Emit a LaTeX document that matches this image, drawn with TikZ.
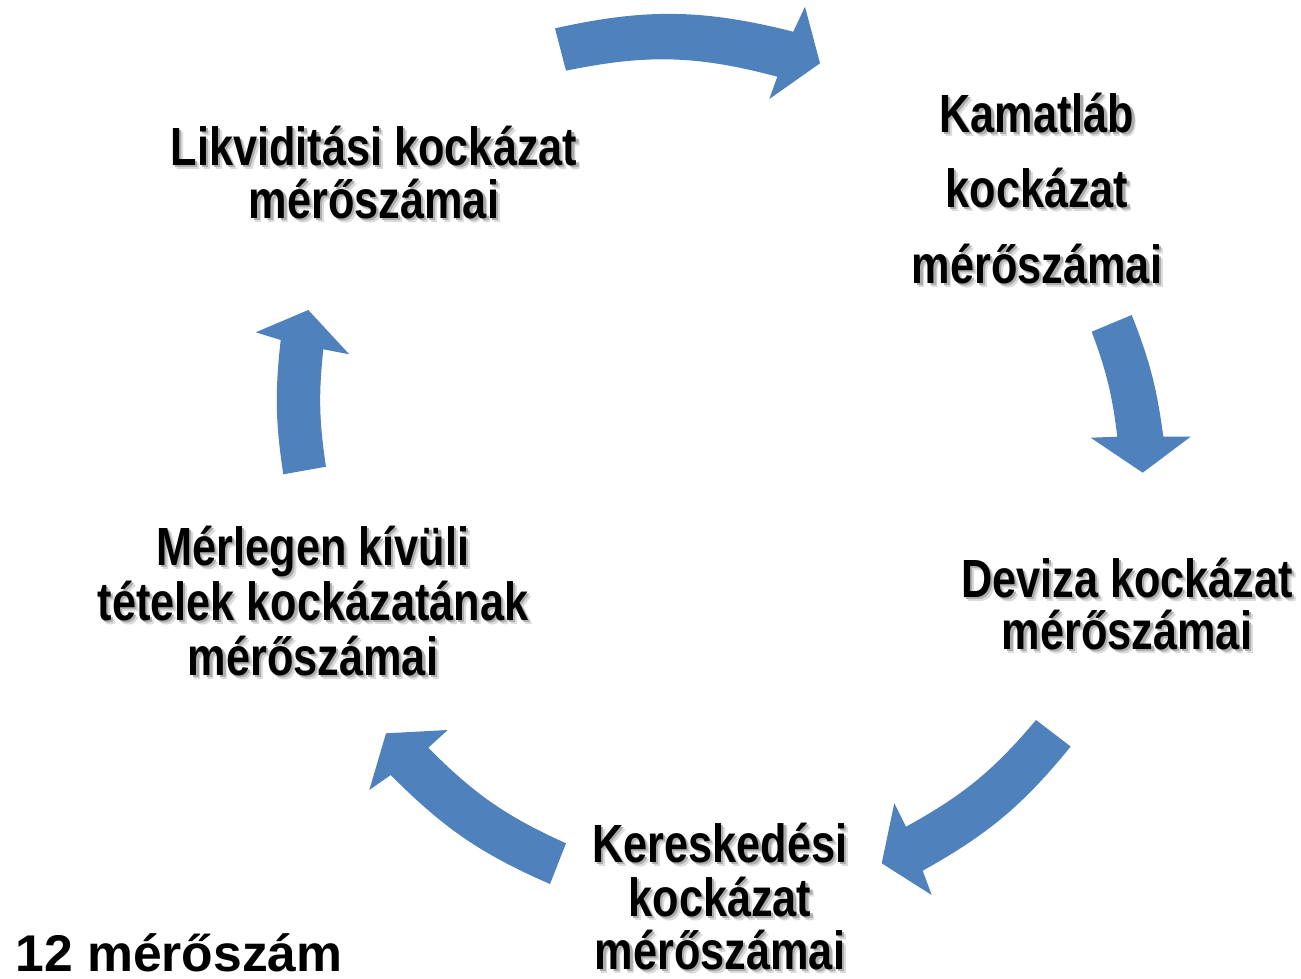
\documentclass[tikz,border=0pt]{standalone}
\usepackage{fontspec}
\setmainfont{Liberation Sans}
\newfontfamily\labfont[FakeStretch=0.805]{Liberation Sans}
\definecolor{arrowblue}{RGB}{79,129,189}
\tikzset{
  lbl/.style={anchor=base, inner sep=0pt, font=\labfont\bfseries\fontsize{30.6}{30.6}\selectfont},
  shadowA/.style={lbl, text=black!14},
  shadowB/.style={lbl, text=black!32},
  cyc/.style={fill=arrowblue, draw=none},
  note/.style={anchor=base west, inner sep=0pt, font=\bfseries\fontsize{29.4}{29.4}\selectfont},
}
\newcommand\shline[4]{%
  \node[shadowA] at (#2+4,#3+4) {#4};
  \node[shadowB] at (#2+2.2,#3+2.2) {#4};
  \node[lbl] (#1) at (#2,#3) {#4};
}
\begin{document}
\begin{tikzpicture}[x=0.02cm,y=-0.02cm]
\useasboundingbox (0,0) rectangle (1301,978);

% cycle arrows
\fill[cyc] (555,28.3) -- (566,70.7) to[bend left=13.3] (777.3,76.7) -- (769.3,99) -- (820,63.3) -- (805,6.7) -- (793.3,31.7) to[bend right=13.3] (555,28.3) -- cycle;
\fill[cyc] (1131.7,315) -- (1091.7,331.7) to[bend left=6.7] (1117.3,436.7) -- (1090.7,437.7) -- (1142.7,472.7) -- (1190.7,436.7) -- (1163.3,436.7) to[bend right=7] (1131.7,315) -- cycle;
\fill[cyc] (1070.7,746.5) -- (1036,720) to[bend left=10.5] (906,826.7) -- (894.3,803.3) -- (881.7,863.3) -- (931.7,895) -- (922.7,870.7) to[bend right=10.8] (1070.7,746.5) -- cycle;
\fill[cyc] (550,884) -- (566,843.3) to[bend left=10.5] (428.3,747.7) -- (447.7,730) -- (386,733.3) -- (369.3,790) -- (390.7,775) to[bend right=10.8] (550,884) -- cycle;
\fill[cyc] (283.3,474.3) -- (326,466.7) to[bend left=7.3] (323.3,349.3) -- (349.3,354.3) -- (308.3,310) -- (255.7,332.3) -- (280.7,340) to[bend right=7.5] (283.3,474.3) -- cycle;

% labels
\shline{lik1}{374}{165}{Likviditási kockázat}
\shline{lik2}{374}{218}{mérőszámai}

\shline{kam1}{1037}{132}{Kamatláb}
\shline{kam2}{1037}{207}{kockázat}
\shline{kam3}{1037}{283}{mérőszámai}

\shline{dev1}{1127}{597}{Deviza kockázat}
\shline{dev2}{1127}{649}{mérőszámai}

\shline{ker1}{720}{862}{Kereskedési}
\shline{ker2}{720}{916}{kockázat}
\shline{ker3}{720}{969}{mérőszámai}

\shline{mer1}{313}{565}{Mérlegen kívüli}
\shline{mer2}{313}{620}{tételek kockázatának}
\shline{mer3}{313}{675}{mérőszámai}

\node[note] (total) at (15,971) {12 mérőszám};
\end{tikzpicture}
\end{document}
